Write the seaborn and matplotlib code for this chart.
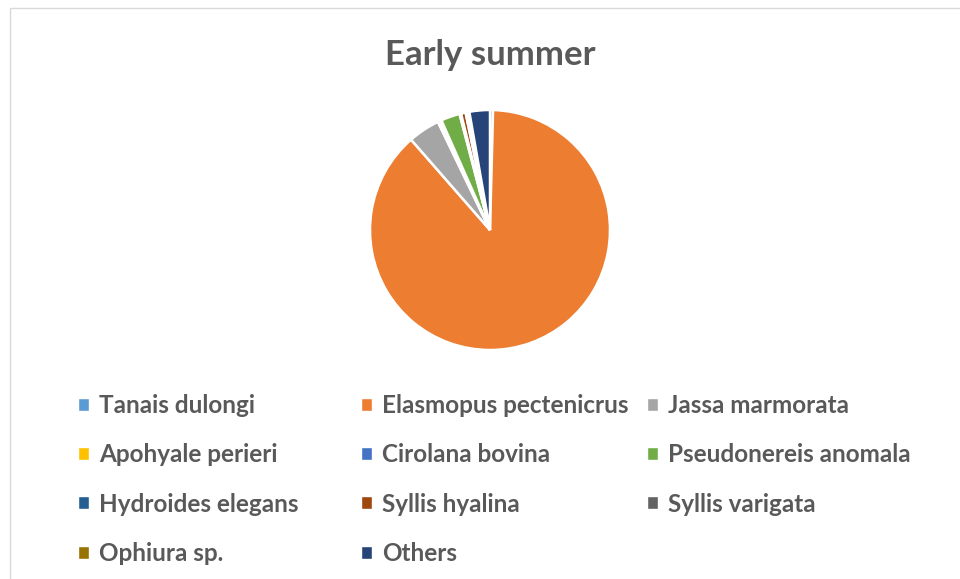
import matplotlib
matplotlib.use("Agg")
import matplotlib.pyplot as plt
import seaborn as sns
from matplotlib.patches import Patch, Rectangle

species = ["Tanais dulongi", "Elasmopus pectenicrus", "Jassa marmorata",
           "Apohyale perieri", "Cirolana bovina", "Pseudonereis anomala",
           "Hydroides elegans", "Syllis hyalina", "Syllis varigata",
           "Ophiura sp.", "Others"]
shares = [0.4, 86.4, 4.2, 0.2, 0.3, 2.5, 0.2, 0.6, 0.3, 0.2, 2.7]
colors = ["#5B9BD5", "#ED7D31", "#A5A5A5", "#FFC000", "#4472C4", "#70AD47",
          "#255E91", "#9E480E", "#636363", "#997300", "#264478"]

sns.set_theme(style="white")
plt.rcParams['font.family'] = ['Lato', 'DejaVu Sans']

fig = plt.figure(figsize=(9.6, 5.79), dpi=100)

# chart frame
fig.patches.append(Rectangle((10 / 960, -0.01), 1.0, 1 - 8 / 579 + 0.01,
                             transform=fig.transFigure, fill=False,
                             edgecolor="#d9d9d9", linewidth=1))

ax = fig.add_axes([370 / 960, (579 - 350) / 579, 240 / 960, 240 / 579])
ax.pie(shares, colors=colors, startangle=90, counterclock=False,
       wedgeprops=dict(edgecolor="white", linewidth=1.8))
ax.set_xlim(-1, 1)
ax.set_ylim(-1, 1)
ax.set_aspect("equal")

fig.text(0.511, 1 - 55 / 579, "Early summer", ha="center", va="center",
         fontsize=25, fontweight="bold", color="#595959")

# legend laid out in rows of three -> one legend block per column
col_x = [78, 361, 647]
for c in range(3):
    idx = list(range(c, len(species), 3))
    handles = [Patch(facecolor=colors[i], label=species[i]) for i in idx]
    fig.legend(handles=handles, loc="upper left",
               bbox_to_anchor=(col_x[c] / 960, 1 - 394 / 579), frameon=False,
               labelcolor="#595959", prop=dict(weight="bold", size=17.5),
               handlelength=0.45, handleheight=0.45, handletextpad=0.42,
               borderpad=0, borderaxespad=0, labelspacing=1.08)

fig.savefig("out.png", dpi=100, facecolor="white")
